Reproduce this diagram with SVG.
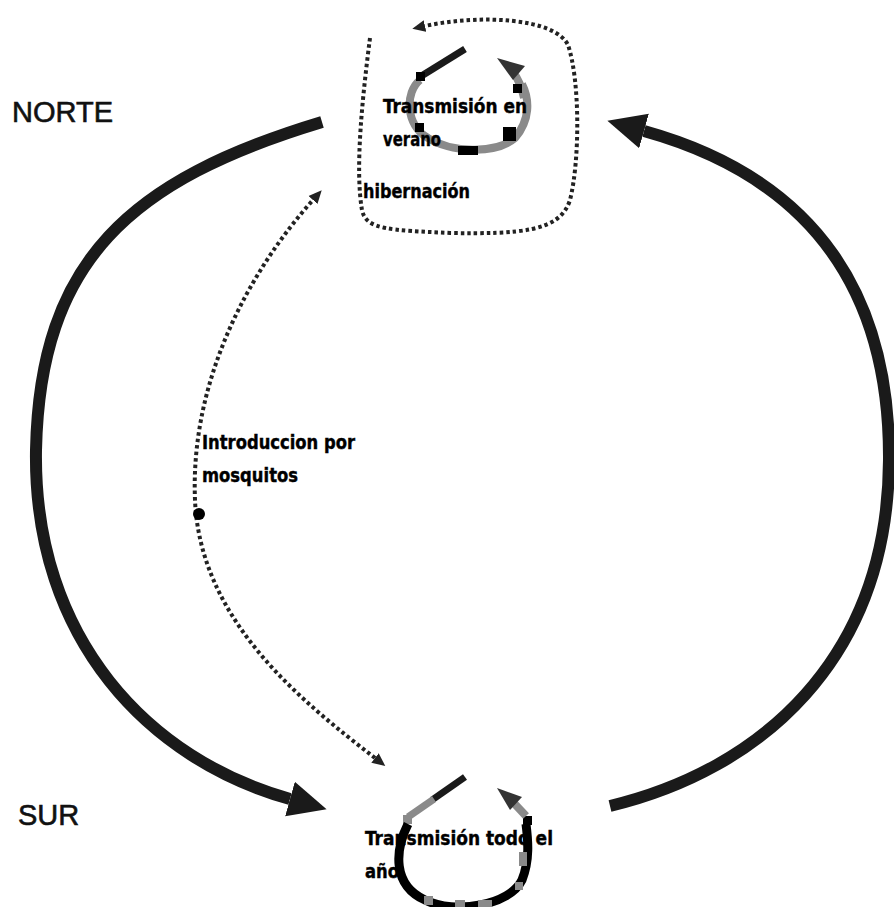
<svg xmlns="http://www.w3.org/2000/svg" width="894" height="907" viewBox="0 0 894 907">
<style>
.region{font-family:"Liberation Sans",Arial,sans-serif;font-size:29px;fill:#111;stroke:#111;stroke-width:0.6}
.lbl{font-family:"DejaVu Sans Condensed","DejaVu Sans","Liberation Sans",sans-serif;font-stretch:condensed;font-weight:bold;font-size:20px;fill:#000;stroke:#000;stroke-width:0.4}
.thick{fill:none;stroke:#1a1a1a;stroke-width:12;stroke-linecap:butt}
.dots{fill:none;stroke:#222;stroke-width:4;stroke-dasharray:3.5 3}
.ring{fill:none;stroke:#8a8a8a;stroke-width:8}
.ringb{fill:none;stroke:#000;stroke-width:9}
.blk{fill:#000}
.gry{fill:#8a8a8a}
.head{fill:#333}
</style>
<defs>
<marker id="big" markerUnits="userSpaceOnUse" viewBox="0 -19 40 38" markerWidth="40" markerHeight="38" refX="0" refY="0" orient="auto">
<path d="M0,-18 L38,0 L0,18 z" fill="#1a1a1a"/>
</marker>
<marker id="small" markerUnits="userSpaceOnUse" viewBox="0 -7 14 14" markerWidth="14" markerHeight="14" refX="0" refY="0" orient="auto-start-reverse">
<path d="M0,-6 L13,0 L0,6 z" fill="#222"/>
</marker>
</defs>
<rect width="894" height="907" fill="#fff"/>

<g id="connectors">
<path id="norte-sur" class="thick" d="M322,122 C130,180 40,260 36,450 C33,640 150,760 290,799" marker-end="url(#big)"/>
<path id="sur-norte" class="thick" d="M610,806 C760,770 888,660 889,460 C890,300 820,180 644,131" marker-end="url(#big)"/>
<path id="introduccion" class="dots" d="M375,758 C300,700 200,620 195,500 C190,380 250,270 313,200" marker-start="url(#small)" marker-end="url(#small)"/>
<circle cx="199" cy="514" r="6" fill="#000"/>
</g>

<g id="norte">
<text class="region" x="12" y="122">NORTE</text>
</g>

<g id="sur">
<text class="region" x="18" y="825">SUR</text>
</g>

<g id="hibernacion">
<path class="dots" d="M370,38 C362,100 355,170 362,210 C366,230 390,230 450,233 C520,234 560,232 570,200 C580,160 580,80 568,45 C555,18 480,14 425,26" marker-end="url(#small)"/>
<text class="lbl" x="363" y="198" textLength="107" lengthAdjust="spacingAndGlyphs">hibernación</text>
</g>

<g id="transmision-verano">
<line x1="465" y1="49" x2="423" y2="75" stroke="#1a1a1a" stroke-width="7"/>
<path class="ring" d="M420,80 C405,92 405,125 428,138 C450,152 495,155 515,138 C530,120 530,100 522,84"/>
<path class="ring" d="M524,98 C522,88 519,80 513,72"/>
<rect class="blk" x="416" y="72" width="9" height="9"/>
<rect class="blk" x="415" y="123" width="9" height="9"/>
<rect class="blk" x="458" y="146" width="20" height="9"/>
<rect class="blk" x="503" y="127" width="13" height="14"/>
<rect class="blk" x="513" y="84" width="9" height="9"/>
<polygon class="head" points="497,58 525,66 513,80"/>
<text class="lbl" x="383" y="113" textLength="144" lengthAdjust="spacingAndGlyphs">Transmisión en</text>
<text class="lbl" x="383" y="146" textLength="58" lengthAdjust="spacingAndGlyphs">verano</text>
</g>

<g id="transmision-todo">
<line x1="465" y1="777" x2="432" y2="800" stroke="#1a1a1a" stroke-width="7"/>
<line x1="434" y1="799" x2="408" y2="817" stroke="#8a8a8a" stroke-width="7"/>
<rect class="gry" x="403" y="815" width="9" height="9"/>
<path class="ringb" d="M408,824 C395,850 392,885 425,900 C455,915 510,905 522,880 C530,860 528,840 526,824"/>
<rect class="gry" x="519" y="852" width="8" height="14"/>
<rect class="gry" x="515" y="882" width="8" height="8"/>
<rect class="gry" x="424" y="896" width="9" height="9"/>
<rect class="gry" x="455" y="900" width="10" height="7"/>
<rect class="gry" x="478" y="900" width="14" height="7"/>
<rect class="blk" x="523" y="816" width="9" height="9"/>
<line x1="526" y1="816" x2="511" y2="800" stroke="#8a8a8a" stroke-width="8"/>
<polygon class="head" points="497,788 522,797 510,810"/>
<text class="lbl" x="365" y="845" textLength="188" lengthAdjust="spacingAndGlyphs">Transmisión todo el</text>
<text class="lbl" x="365" y="878" textLength="34" lengthAdjust="spacingAndGlyphs">año</text>
</g>

<g id="introduccion-label">
<text class="lbl" x="202" y="449" textLength="153" lengthAdjust="spacingAndGlyphs">Introduccion por</text>
<text class="lbl" x="202" y="482" textLength="96" lengthAdjust="spacingAndGlyphs">mosquitos</text>
</g>
</svg>
